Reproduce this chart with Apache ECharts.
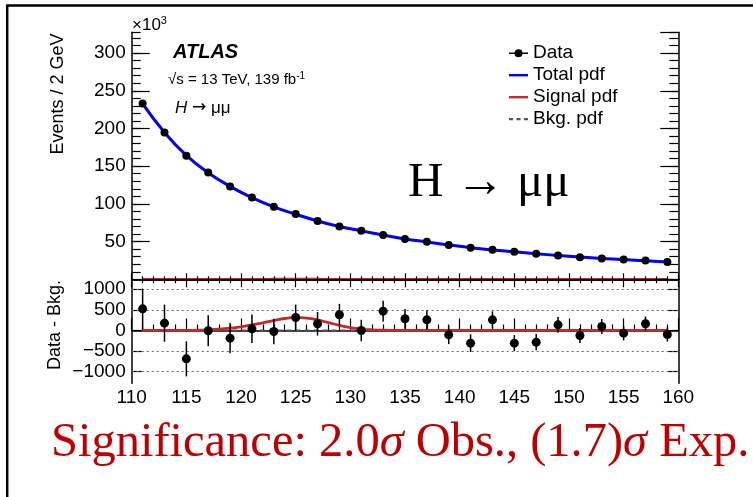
<!DOCTYPE html>
<html><head><meta charset="utf-8">
<script src="https://cdn.jsdelivr.net/npm/echarts@6/dist/echarts.min.js"></script>
<style>html,body{margin:0;padding:0;background:#fff}#c{width:753px;height:497px}</style>
</head><body><div id="c"></div>
<script>
// ---- data ----
const massBins = [111,113,115,117,119,121,123,125,127,129,131,133,135,137,139,141,143,145,147,149,151,153,155,157,159];
// Events / 2 GeV, in units of 10^3
const dataEvents = [233.2,194.7,163.8,141.6,123.1,108.5,96.2,86.5,77.2,70.0,64.3,58.6,53.3,49.7,45.4,41.8,39.1,36.5,33.8,31.6,29.4,27.6,26.3,24.9,22.8];
const totalPdf   = [233.0,194.8,164.2,141.4,123.2,108.3,96.1,86.3,77.3,70.0,64.2,58.7,53.5,49.5,45.6,42.0,38.9,36.4,33.9,31.6,29.5,27.7,26.1,24.7,23.0];
const bkgPdf     = [233.0,194.8,164.2,141.4,123.1,108.2,95.9,86.0,77.1,69.9,64.2,58.7,53.5,49.5,45.6,42.0,38.9,36.4,33.9,31.6,29.5,27.7,26.1,24.7,23.0];
// Signal pdf (events per 2 GeV)
const signalMass = [111,112,113,114,115,116,117,118,119,120,121,122,123,124,125,126,127,128,129,130,131,132,133,134,135,140,145,150,155,159];
const signalPdf  = [0,0,0,0,0,5,15,30,55,90,135,185,240,290,315,300,255,190,125,70,35,15,5,2,0,0,0,0,0,0];
// Data - Bkg. residuals and their errors
const residuals  = [525,178,-687,-8,-186,40,-24,315,162,380,0,468,283,258,-105,-307,258,-307,-283,137,-121,97,-65,162,-97];
const residErrs  = [490,450,425,375,365,345,310,310,285,265,260,255,240,230,225,215,205,195,195,190,180,180,175,175,170];
const bkgResidual = [0,0,0,0,0,0,0,0,0,0,0,0,0,0,0,0,0,0,0,0,0,0,0,0,0];
const residGrid = [-1000,-500,500,1000];
const residTicks = [-1000,-500,0,500,1000];

const FONT = 'Liberation Sans, Arial, Helvetica, sans-serif';
const SERIF = 'Liberation Serif, Times New Roman, serif';

const zip = (xs, ys) => xs.map((x, i) => [x, ys[i]]);

const chart = echarts.init(document.getElementById('c'), null, {renderer: 'canvas'});

const G0 = {left: 131.7, top: 32.3, width: 546.6, height: 247};
const G1 = {left: 131.7, top: 279.3, width: 546.6, height: 104};

const axisLine = {show: true, lineStyle: {color: '#000', width: 1.5}};
const tickStyle = {color: '#000', width: 1.2};

function xAx(grid, pos, len, mlen, labels) {
  return {
    type: 'value', gridIndex: grid, position: pos, min: 110, max: 160, interval: 5,
    axisLine: axisLine,
    axisTick: {show: true, inside: true, length: len, lineStyle: tickStyle},
    minorTick: {show: true, splitNumber: 5, length: mlen, lineStyle: tickStyle},
    splitLine: {show: false},
    axisLabel: labels ? {show: true, fontFamily: FONT, fontSize: 19, color: '#000', margin: 5} : {show: false}
  };
}

const option = {
  animation: false,
  backgroundColor: '#fff',
  grid: [
    Object.assign({containLabel: false}, G0),
    Object.assign({containLabel: false}, G1)
  ],
  xAxis: [
    xAx(0, 'bottom', 6, 3, false),
    xAx(0, 'top', 8, 4, false),
    xAx(1, 'bottom', 12, 6, true)
  ],
  yAxis: [
    { type: 'value', gridIndex: 0, position: 'left', min: 0, max: 327.5, interval: 50,
      axisLine: axisLine,
      axisTick: {show: true, inside: true, length: 18, lineStyle: tickStyle},
      splitLine: {show: false},
      axisLabel: {show: true, fontFamily: FONT, fontSize: 19, color: '#000', margin: 6,
        showMinLabel: false, showMaxLabel: false,
        formatter: v => (v > 0 && v % 50 === 0) ? String(v) : ''} },
    { type: 'value', gridIndex: 0, position: 'left', offset: 0, min: 0, max: 327.5, interval: 10,
      axisLine: {show: false},
      axisTick: {show: true, inside: true, length: 9, lineStyle: tickStyle},
      splitLine: {show: false}, axisLabel: {show: false} },
    { type: 'value', gridIndex: 0, position: 'right', min: 0, max: 327.5, interval: 50,
      axisLine: axisLine,
      axisTick: {show: true, inside: true, length: 18, lineStyle: tickStyle},
      splitLine: {show: false}, axisLabel: {show: false} },
    { type: 'value', gridIndex: 0, position: 'right', offset: 0, min: 0, max: 327.5, interval: 10,
      axisLine: {show: false},
      axisTick: {show: true, inside: true, length: 9, lineStyle: tickStyle},
      splitLine: {show: false}, axisLabel: {show: false} },
    { type: 'value', gridIndex: 1, position: 'left', min: -1280, max: 1240,
      axisLine: axisLine,
      axisTick: {show: true, inside: true, length: 10, lineStyle: tickStyle, customValues: residTicks},
      splitLine: {show: false},
      axisLabel: {show: true, fontFamily: FONT, fontSize: 19, color: '#000', margin: 6,
        customValues: residTicks,
        formatter: v => String(v).replace('-', '\u2212')} },
    { type: 'value', gridIndex: 1, position: 'right', min: -1280, max: 1240,
      axisLine: axisLine,
      axisTick: {show: true, inside: true, length: 10, lineStyle: tickStyle, customValues: residTicks},
      splitLine: {show: false}, axisLabel: {show: false} }
  ],
  legend: {
    orient: 'vertical', left: 509, top: 43.7,
    itemWidth: 19, itemHeight: 10, itemGap: 3, padding: 0,
    textStyle: {fontFamily: FONT, fontSize: 19, color: '#000', lineHeight: 18},
    data: [
      {name: 'Data', icon: 'path://M0,4.3H19V5.7H0Z M13.5,5A4,4 0 1 1 5.5,5A4,4 0 1 1 13.5,5Z'},
      {name: 'Total pdf', icon: 'path://M0,0H19V2.4H0Z'},
      {name: 'Signal pdf', icon: 'path://M0,0H19V2.4H0Z'},
      {name: 'Bkg. pdf', icon: 'path://M0,0H3V1.6H0Z M5.5,0H8.5V1.6H5.5Z M11,0H14V1.6H11Z'}
    ]
  },
  series: [
    { name: 'Data', type: 'line', xAxisIndex: 0, yAxisIndex: 0, data: zip(massBins, dataEvents),
      symbol: 'circle', symbolSize: 8, showSymbol: true, color: '#000',
      lineStyle: {width: 0, opacity: 0}, itemStyle: {color: '#000'}, z: 6 },
    { name: 'Bkg. pdf', type: 'line', xAxisIndex: 0, yAxisIndex: 0, data: zip(massBins, bkgPdf),
      symbol: 'none', smooth: true, color: '#555',
      lineStyle: {color: '#555', width: 2, type: [4, 3]}, z: 2 },
    { name: 'Total pdf', type: 'line', xAxisIndex: 0, yAxisIndex: 0, data: zip(massBins, totalPdf),
      symbol: 'none', smooth: true, color: '#0000ff',
      lineStyle: {color: '#0000ff', width: 3}, z: 3 },
    { name: 'Signal pdf', type: 'line', xAxisIndex: 0, yAxisIndex: 0,
      data: zip(signalMass, signalPdf.map(v => v / 1000)),
      symbol: 'none', color: '#c8282a', clip: false,
      lineStyle: {color: '#c8282a', width: 2.5}, z: -1 },
    { name: 'Bkg. pdf', type: 'line', xAxisIndex: 2, yAxisIndex: 4, data: zip(massBins, bkgResidual),
      symbol: 'none', color: '#555',
      lineStyle: {color: '#555', width: 2, type: [5, 4]}, z: 2,
      markLine: { silent: true, symbol: 'none', label: {show: false},
        lineStyle: {color: '#666', width: 1, type: [2, 3]},
        data: residGrid.map(v => ({yAxis: v})) } },
    { name: 'Signal pdf', type: 'line', xAxisIndex: 2, yAxisIndex: 4, data: zip(signalMass, signalPdf),
      symbol: 'none', smooth: true, color: '#c8282a',
      lineStyle: {color: '#c8282a', width: 2.8}, z: 3 },
    { name: 'Data errors', type: 'custom', xAxisIndex: 2, yAxisIndex: 4,
      data: massBins.map((m, i) => [m, residuals[i], residErrs[i]]),
      renderItem: function (params, api) {
        const x = api.value(0), y = api.value(1), e = api.value(2);
        const p1 = api.coord([x, y - e]), p2 = api.coord([x, y + e]);
        return {type: 'line', shape: {x1: p1[0], y1: p1[1], x2: p2[0], y2: p2[1]},
          style: {stroke: '#000', lineWidth: 1.5}};
      }, z: 5 },
    { name: 'Data', type: 'line', xAxisIndex: 2, yAxisIndex: 4, data: zip(massBins, residuals),
      symbol: 'circle', symbolSize: 9, color: '#000',
      lineStyle: {width: 0, opacity: 0}, itemStyle: {color: '#000'}, z: 6 }
  ],
  graphic: [
    { type: 'rect', shape: {x: 7.2, y: 5.5, width: 900, height: 700},
      style: {fill: 'none', stroke: '#000', lineWidth: 2.5}, silent: true },
    { type: 'text', x: 132, y: 25, style: {
        text: '\u00d710{s|3}', fill: '#000', font: '17px ' + FONT, verticalAlign: 'middle',
        rich: {s: {fontSize: 11, fontFamily: FONT, verticalAlign: 'top', padding: [0, 0, 8, 0]}} } },
    { type: 'text', x: 173, y: 52, style: {
        text: 'ATLAS', fill: '#000', font: 'italic bold 20px ' + FONT, verticalAlign: 'middle'} },
    { type: 'text', x: 168, y: 80, style: {
        text: '\u221as = 13 TeV, 139 fb{s|-1}', fill: '#000', font: '15px ' + FONT, verticalAlign: 'middle',
        rich: {s: {fontSize: 10, fontFamily: FONT, padding: [0, 0, 8, 0]}} } },
    { type: 'text', x: 175, y: 108, style: {
        text: '{i|H} {a|\u2192} \u03bc\u03bc', fill: '#000', font: '17px ' + FONT, verticalAlign: 'middle',
        rich: {i: {fontStyle: 'italic', fontSize: 17, fontFamily: FONT},
               a: {fontSize: 17, fontFamily: 'DejaVu Sans, ' + FONT}} } },
    { type: 'text', x: 58, y: 94, rotation: Math.PI / 2, style: {
        text: 'Events / 2 GeV', fill: '#000', font: '18px ' + FONT, align: 'center', verticalAlign: 'middle'} },
    { type: 'text', x: 55, y: 325, rotation: Math.PI / 2, style: {
        text: 'Data - Bkg.', fill: '#000', font: '18px ' + FONT, align: 'center', verticalAlign: 'middle'} },
    { type: 'text', x: 408, y: 183, style: {
        text: 'H \u2192 \u03bc\u03bc', fill: '#000', font: '49px ' + SERIF, verticalAlign: 'middle'} },
    { type: 'text', x: 51, y: 443, style: {
        text: 'Significance: 2.0{i|\u03c3} Obs., (1.7){i|\u03c3} Exp.', fill: '#c00000',
        font: '48.5px ' + SERIF, verticalAlign: 'middle',
        rich: {i: {fontStyle: 'italic', fontSize: 48.5, fontFamily: SERIF, fill: '#c00000'}} } }
  ]
};
chart.setOption(option);
</script>
</body></html>
